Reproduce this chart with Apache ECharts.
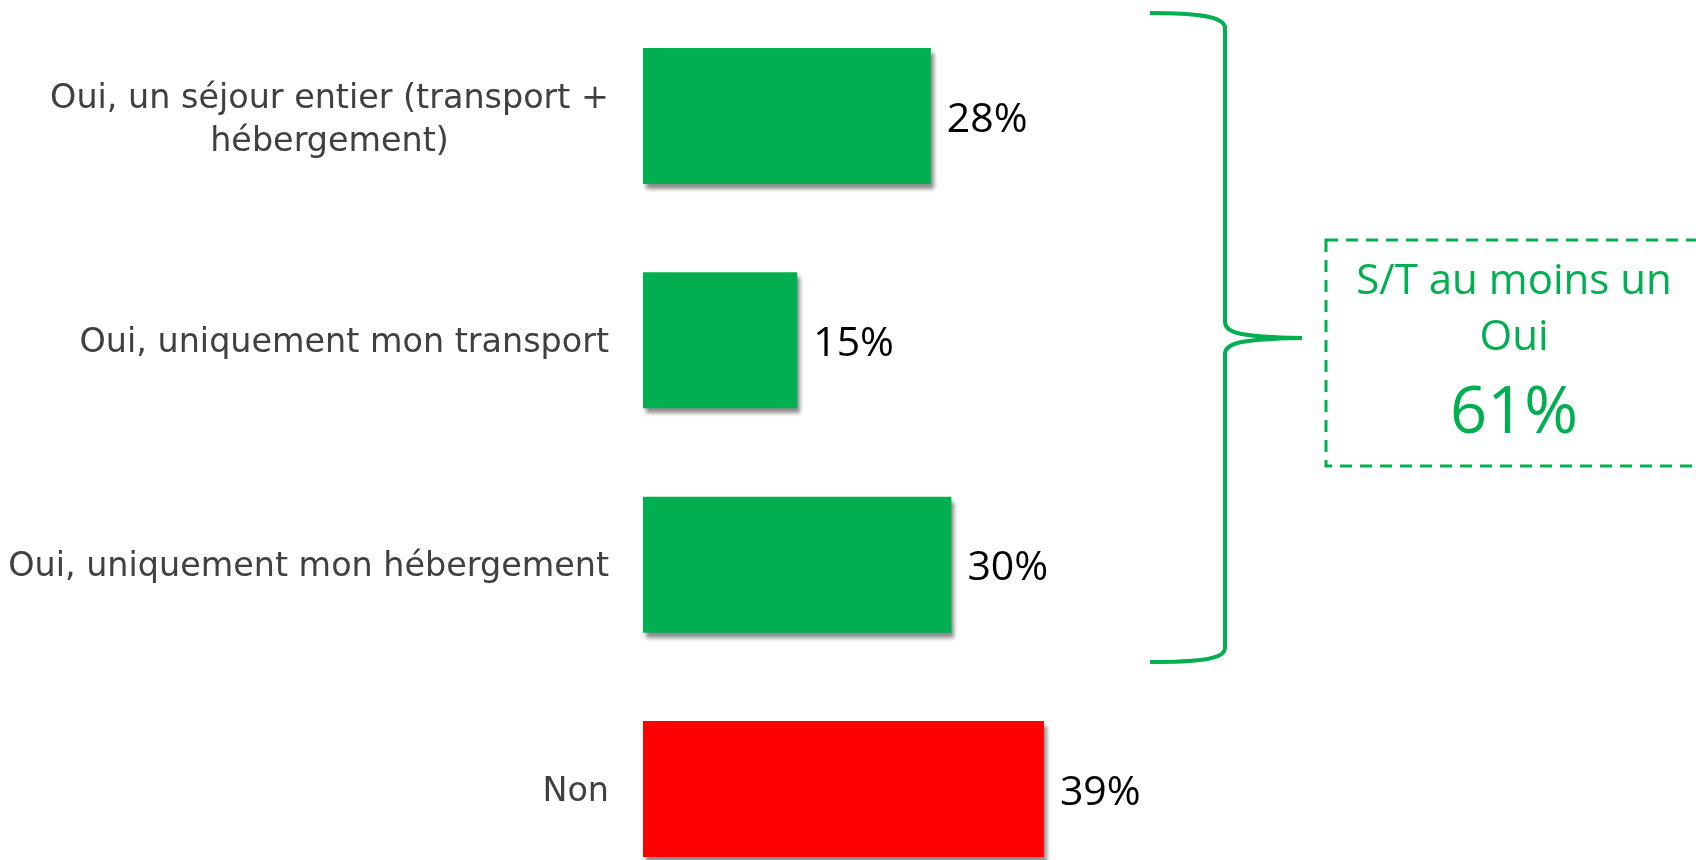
<!DOCTYPE html>
<html>
<head>
<meta charset="utf-8">
<script src="https://cdn.jsdelivr.net/npm/echarts@6/dist/echarts.min.js"></script>
<style>
  html, body { margin: 0; padding: 0; background: #ffffff; }
  #chart { width: 1696px; height: 860px; }
</style>
</head>
<body>
<div id="chart"></div>
<script>
const categories = [
  'Oui, un séjour entier (transport +\nhébergement)',
  'Oui, uniquement mon transport',
  'Oui, uniquement mon hébergement',
  'Non'
];
const values = [28, 15, 30, 39];
const barColors = ['#00B050', '#00B050', '#00B050', '#FF0000'];
const summaryTitle = ['S/T au moins un', 'Oui'];
const summaryValue = '61%';

const GREEN = '#00B050';

const chart = echarts.init(document.getElementById('chart'));

const braceStyle = { fill: null, stroke: GREEN, lineWidth: 4 };
function curve(x1, y1, c1x, c1y, c2x, c2y, x2, y2) {
  return { type: 'bezierCurve', shape: { x1: x1, y1: y1, cpx1: c1x, cpy1: c1y, cpx2: c2x, cpy2: c2y, x2: x2, y2: y2 }, style: braceStyle };
}
function seg(x1, y1, x2, y2) {
  return { type: 'line', shape: { x1: x1, y1: y1, x2: x2, y2: y2 }, style: braceStyle };
}

const categoryData = categories.map(function (c) {
  if (c.indexOf('\n') >= 0) {
    return { value: c, textStyle: { padding: [9, 0, 0, 0] } };
  }
  return c;
});

const option = {
  backgroundColor: '#ffffff',
  animation: false,
  grid: { left: 643, width: 1028, top: 116, height: 673, containLabel: false, outerBoundsMode: 'none' },
  xAxis: {
    type: 'value', min: 0, max: 100, show: false
  },
  yAxis: {
    type: 'category',
    inverse: true,
    boundaryGap: false,
    data: categoryData,
    axisLine: { show: false },
    axisTick: { show: false },
    splitLine: { show: false },
    axisLabel: {
      margin: 34,
      color: '#404040',
      fontFamily: 'DejaVu Sans',
      fontSize: 33.4,
      lineHeight: 43,
      align: 'right',
      padding: [6, 0, 0, 0],
      formatter: function (v) {
        if (v.indexOf('\n') >= 0) {
          return v.split('\n').map(function (l) { return '{c|' + l + '}'; }).join('\n');
        }
        return v;
      },
      rich: {
        c: { align: 'center', color: '#404040', fontFamily: 'DejaVu Sans', fontSize: 33.4, lineHeight: 43 }
      }
    }
  },
  series: [{
    type: 'bar',
    barWidth: 136,
    clip: false,
    data: values.map(function (v, i) {
      return { value: v, itemStyle: { color: barColors[i] } };
    }),
    itemStyle: {
      shadowColor: 'rgba(0,0,0,0.45)',
      shadowBlur: 4,
      shadowOffsetX: 3,
      shadowOffsetY: 5
    },
    label: {
      show: true,
      position: 'right',
      distance: 16,
      offset: [0, 4],
      color: '#000000',
      fontFamily: 'Open Sans',
      fontSize: 41,
      formatter: '{c}%'
    }
  }],
  graphic: [
    curve(1150, 13, 1195, 13, 1225, 16, 1225, 28),
    seg(1225, 28, 1225, 322),
    curve(1225, 322, 1225, 333, 1240, 337, 1302, 338),
    curve(1302, 338, 1240, 339, 1225, 343, 1225, 354),
    seg(1225, 354, 1225, 648),
    curve(1225, 648, 1225, 660, 1195, 662, 1150, 662),
    {
      type: 'rect',
      shape: { x: 1326, y: 240, width: 420, height: 226 },
      style: { fill: null, stroke: GREEN, lineWidth: 3, lineDash: [12, 8] }
    },
    {
      type: 'text',
      x: 1514, y: 282,
      style: { text: summaryTitle[0], fill: GREEN, font: '42px "Open Sans"', textAlign: 'center', textVerticalAlign: 'middle' }
    },
    {
      type: 'text',
      x: 1514, y: 338,
      style: { text: summaryTitle[1], fill: GREEN, font: '42px "Open Sans"', textAlign: 'center', textVerticalAlign: 'middle' }
    },
    {
      type: 'text',
      x: 1514, y: 414,
      style: { text: summaryValue, fill: GREEN, font: '65px "Open Sans"', textAlign: 'center', textVerticalAlign: 'middle' }
    }
  ]
};

chart.setOption(option);
</script>
</body>
</html>
